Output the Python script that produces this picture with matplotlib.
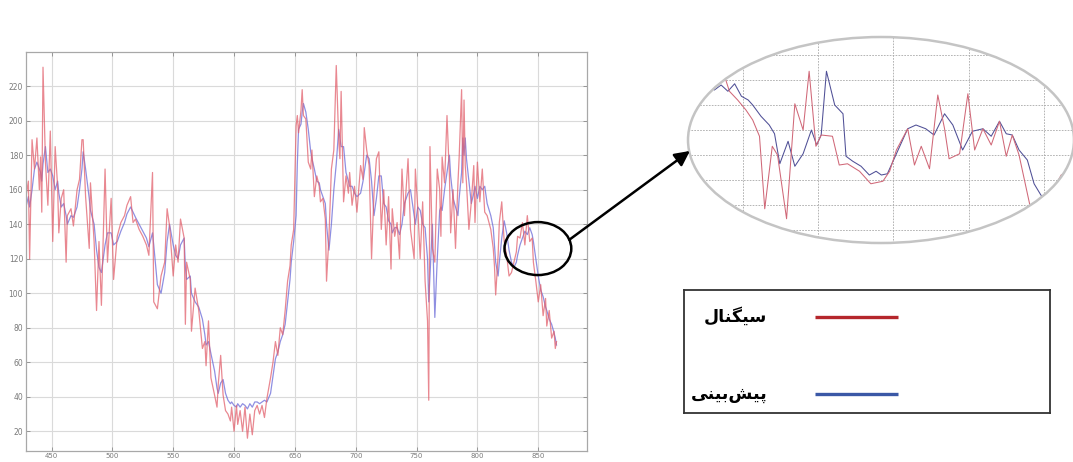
import numpy as np
import matplotlib.pyplot as plt
from matplotlib.patches import Ellipse, ConnectionPatch

# sample index, measured signal and model prediction
sample = [429, 431, 432, 434, 436, 438, 440, 441, 442, 443, 445, 447, 449, 451, 453, 455, 456, 458, 460, 462,
          463, 466, 468, 471, 473, 475, 476, 478, 481, 482, 485, 487, 489, 491, 494, 496, 499, 501, 504, 507,
          510, 512, 515, 517, 519, 522, 525, 528, 530, 533, 534, 537, 540, 543, 545, 547, 550, 552, 554, 556,
          559, 560, 561, 564, 565, 568, 571, 574, 576, 577, 579, 581, 584, 586, 587, 589, 591, 593, 595, 597,
          598, 600, 602, 603, 605, 607, 609, 611, 613, 615, 617, 619, 621, 623, 625, 627, 630, 632, 634, 636,
          638, 640, 642, 644, 646, 647, 649, 651, 652, 653, 655, 656, 657, 659, 661, 663, 664, 666, 668, 670,
          671, 673, 675, 676, 678, 680, 682, 684, 686, 687, 688, 690, 692, 694, 695, 697, 699, 701, 704, 706,
          707, 709, 711, 713, 715, 717, 719, 721, 723, 725, 727, 729, 730, 732, 734, 736, 738, 740, 743, 745,
          748, 749, 751, 753, 755, 757, 759, 760, 761, 763, 765, 767, 769, 770, 771, 773, 775, 777, 778, 780,
          782, 784, 785, 787, 788, 789, 790, 791, 793, 795, 797, 798, 800, 802, 804, 806, 808, 811, 813, 814,
          815, 817, 818, 820, 822, 824, 826, 828, 830, 832, 833, 835, 837, 839, 841, 843, 845, 846, 848, 850,
          852, 854, 856, 857, 859, 861, 863, 864, 865]
signal = [156, 165, 120, 189, 172, 190, 160, 179, 147, 231, 176, 151, 194, 130, 185, 162, 135, 155, 160, 118,
          145, 149, 139, 160, 166, 189, 189, 156, 126, 164, 130, 90, 130, 93, 172, 118, 155, 108, 133, 141,
          145, 151, 156, 141, 143, 137, 133, 128, 122, 170, 95, 91, 110, 118, 149, 139, 110, 128, 118, 143,
          132, 82, 118, 108, 78, 103, 90, 68, 72, 58, 84, 51, 41, 34, 47, 64, 41, 32, 30, 26,
          34, 20, 35, 24, 32, 20, 34, 16, 30, 18, 32, 35, 30, 35, 28, 39, 51, 60, 72, 64,
          80, 76, 90, 107, 116, 128, 137, 197, 203, 193, 206, 218, 203, 201, 176, 172, 183, 156, 168, 162,
          153, 155, 143, 107, 133, 172, 183, 232, 189, 178, 217, 153, 168, 158, 170, 151, 162, 147, 174, 166,
          196, 183, 174, 120, 158, 178, 182, 137, 160, 128, 156, 114, 149, 133, 141, 120, 172, 145, 178, 137,
          120, 172, 149, 120, 153, 107, 84, 38, 185, 126, 118, 172, 160, 133, 179, 164, 203, 168, 135, 160,
          126, 164, 179, 218, 164, 212, 174, 164, 137, 153, 174, 141, 176, 153, 172, 147, 145, 137, 126, 116,
          99, 122, 141, 153, 130, 122, 110, 112, 118, 124, 133, 132, 141, 128, 145, 130, 132, 118, 107, 95,
          105, 87, 97, 81, 90, 74, 78, 68, 72]
predicted = [150, 156, 150, 160, 172, 176, 172, 170, 165, 175, 185, 170, 172, 168, 160, 165, 158, 150, 152, 145,
             140, 145, 144, 150, 160, 172, 182, 172, 155, 148, 140, 125, 115, 112, 128, 135, 135, 128, 130, 136,
             141, 146, 150, 147, 144, 140, 136, 132, 127, 135, 128, 105, 100, 112, 130, 140, 128, 122, 120, 128,
             132, 115, 108, 110, 100, 95, 92, 85, 76, 70, 72, 65, 55, 45, 42, 48, 50, 42, 38, 36,
             37, 35, 34, 36, 34, 36, 35, 33, 36, 34, 37, 37, 36, 37, 38, 37, 42, 52, 62, 66,
             72, 76, 82, 95, 108, 118, 130, 145, 175, 195, 198, 205, 210, 205, 195, 182, 178, 172, 165, 164,
             160, 156, 152, 140, 125, 140, 160, 175, 195, 190, 185, 185, 170, 165, 162, 162, 158, 156, 158, 165,
             170, 180, 178, 165, 145, 155, 168, 168, 152, 150, 142, 140, 135, 138, 138, 134, 140, 152, 158, 160,
             145, 140, 150, 148, 140, 138, 120, 95, 110, 140, 86, 120, 148, 150, 148, 160, 170, 180, 168, 155,
             150, 145, 155, 170, 190, 180, 190, 178, 165, 152, 158, 162, 155, 162, 160, 162, 152, 145, 138, 128,
             118, 110, 118, 132, 142, 135, 125, 118, 115, 118, 122, 128, 132, 136, 134, 138, 134, 130, 120, 110,
             102, 98, 92, 90, 85, 82, 77, 74, 70]

# magnified stretch around sample 850
zoom_sig_x = [823.6, 824.7, 826.0, 827.3, 828.2, 829.3, 830.4, 831.3, 832.2, 832.9, 833.9, 834.6, 835.8, 836.9,
              838.0, 838.8, 839.7, 840.4, 841.9, 842.8, 843.9, 845.5, 847.0, 848.6, 849.5, 850.4, 851.9, 852.8,
              853.7, 854.8, 855.9, 856.8, 857.4, 858.8, 859.9, 860.8, 861.9, 863.0, 864.1, 865.0, 865.8, 866.7,
              868.1, 869.0, 869.8, 871.2, 872.3, 873.4]
zoom_sig = [138.1, 138.9, 139.7, 140.8, 139.1, 138.4, 137.6, 136.8, 135.5, 129.7, 134.7, 134.0, 128.9, 138.1,
            136.0, 140.7, 134.7, 135.6, 135.5, 133.2, 133.3, 132.7, 131.7, 131.9, 132.7, 134.4, 136.1, 133.2,
            134.7, 132.9, 138.8, 136.1, 133.7, 134.1, 138.9, 134.4, 136.1, 134.8, 136.7, 133.9, 135.6, 134.0,
            130.1, 128.3, 126.7, 131.2, 132.4, 132.7]
zoom_pred_x = [823.6, 825.6, 826.2, 827.1, 828.0, 828.9, 829.8, 830.7, 831.3, 832.4, 833.5, 834.2, 834.9, 836.0,
               836.9, 838.0, 839.1, 839.8, 840.4, 841.1, 842.2, 843.3, 843.7, 844.6, 845.7, 846.8, 847.7, 848.4,
               849.2, 850.4, 851.9, 853.0, 854.3, 855.4, 856.8, 857.9, 859.2, 860.5, 861.9, 863.0, 864.1, 865.0,
               865.8, 866.7, 867.8, 868.7, 869.6, 870.3]
zoom_pred = [138.1, 139.7, 139.2, 139.6, 139.1, 139.7, 138.7, 138.4, 138.0, 137.1, 136.4, 135.7, 133.3, 135.1,
             133.1, 134.1, 136.0, 134.8, 135.6, 140.7, 138.0, 137.3, 133.9, 133.5, 133.1, 132.4, 132.7, 132.4,
             132.5, 134.1, 136.1, 136.4, 136.1, 135.6, 137.3, 136.4, 134.4, 135.9, 136.1, 135.5, 136.7, 135.7,
             135.6, 134.4, 133.6, 131.7, 130.8, 130.4]

labels = ['سیگنال', 'پیش\u200cبینی']

# isolated, final, initial, medial presentation forms
FORMS = {
    'س': ('\uFEB1', '\uFEB2', '\uFEB3', '\uFEB4'),
    'ی': ('\uFBFC', '\uFBFD', '\uFBFE', '\uFBFF'),
    'گ': ('\uFB92', '\uFB93', '\uFB94', '\uFB95'),
    'ن': ('\uFEE5', '\uFEE6', '\uFEE7', '\uFEE8'),
    'ا': ('\uFE8D', '\uFE8E', '\uFE8D', '\uFE8E'),
    'ل': ('\uFEDD', '\uFEDE', '\uFEDF', '\uFEE0'),
    'پ': ('\uFB56', '\uFB57', '\uFB58', '\uFB59'),
    'ش': ('\uFEB5', '\uFEB6', '\uFEB7', '\uFEB8'),
    'ب': ('\uFE8F', '\uFE90', '\uFE91', '\uFE92'),
}
NO_LEFT_JOIN = set('ا')


def shape_fa(text):
    # matplotlib has no bidi/shaping, so pick joined glyphs and reverse
    out = []
    for i, c in enumerate(text):
        if c not in FORMS:
            continue
        prev_c = text[i - 1] if i > 0 else None
        next_c = text[i + 1] if i + 1 < len(text) else None
        join_prev = prev_c in FORMS and prev_c not in NO_LEFT_JOIN
        join_next = next_c in FORMS and c not in NO_LEFT_JOIN
        iso, fin, ini, med = FORMS[c]
        if join_prev and join_next:
            out.append(med)
        elif join_prev:
            out.append(fin)
        elif join_next:
            out.append(ini)
        else:
            out.append(iso)
    return ''.join(reversed(out))


fig = plt.figure(figsize=(10.73, 4.62), dpi=100)

# main time series
ax = fig.add_axes([0.0242, 0.0235, 0.5228, 0.8646])
ax.plot(sample, predicted, color='#6a6ad8', lw=0.9, alpha=0.75)
ax.plot(sample, signal, color='#e2606c', lw=0.9, alpha=0.75)
ax.set_xlim(429, 890)
ax.set_ylim(8.5, 240)
ax.set_xticks(np.arange(450, 851, 50))
ax.set_yticks(np.arange(20, 221, 20))
ax.grid(True, color='#dadada', lw=0.8)
ax.set_axisbelow(True)
ax.tick_params(direction='in', length=3, width=0.6, color='#8a8a8a', labelcolor='#7a7a7a',
               labelsize=5.5, pad=2, top=True, right=True)
ax.tick_params(axis='x', labelsize=5, pad=1)
for s in ax.spines.values():
    s.set_color('#a8a8a8')
    s.set_linewidth(0.9)

# circle marking the magnified region
zoom_center = (849.7, 125.9)
ax.add_patch(Ellipse(zoom_center, 54.9, 30.7, fill=False, ec='black', lw=1.8, zorder=5))

# magnified view inside an ellipse
axz = fig.add_axes([0.6412, 0.474, 0.3597, 0.4459])
axz.set_xlim(822.7, 874.0)
axz.set_ylim(126.96, 143.44)
axz.axis('off')
frame = Ellipse((0.5, 0.5), 1.0, 1.0, transform=axz.transAxes, fill=False,
                ec='#c4c4c4', lw=1.8, zorder=5, clip_on=False)
axz.add_patch(frame)
clip = Ellipse((0.5, 0.5), 1.0, 1.0, transform=axz.transAxes, fc='none', ec='none')
axz.add_patch(clip)
for gx in range(830, 871, 10):
    axz.axvline(gx, color='#a8a8a8', lw=0.6, ls=(0, (2, 1.5))).set_clip_path(clip)
for gy in range(128, 143, 2):
    axz.axhline(gy, color='#a8a8a8', lw=0.6, ls=(0, (2, 1.5))).set_clip_path(clip)
l1, = axz.plot(zoom_pred_x, zoom_pred, color='#4f4f96', lw=0.75)
l2, = axz.plot(zoom_sig_x, zoom_sig, color='#d06878', lw=0.75)
l1.set_clip_path(clip)
l2.set_clip_path(clip)

arrow = ConnectionPatch(xyA=(875.5, 131.0), coordsA=ax.transData,
                        xyB=(0.005, 0.447), coordsB=axz.transAxes,
                        arrowstyle='-|>,head_length=0.9,head_width=0.45',
                        color='black', lw=1.8, zorder=10)
fig.add_artist(arrow)

# legend box, labels to the left of the line samples
axl = fig.add_axes([0.6375, 0.106, 0.3411, 0.2662])
axl.set_xlim(0, 1)
axl.set_ylim(0, 1)
axl.set_xticks([])
axl.set_yticks([])
for s in axl.spines.values():
    s.set_color('#333333')
    s.set_linewidth(1.3)
legend_colors = ['#b5262c', '#3b58a6']
legend_y = [0.783, 0.154]
for lab, col, yy in zip(labels, legend_colors, legend_y):
    axl.plot([0.358, 0.585], [yy, yy], color=col, lw=2.4, solid_capstyle='butt')
    axl.text(0.228, yy, shape_fa(lab), ha='right', va='center', fontsize=12.5,
             fontweight='bold', family=['DejaVu Sans'], color='black')

fig.savefig('out.png', dpi=100)
